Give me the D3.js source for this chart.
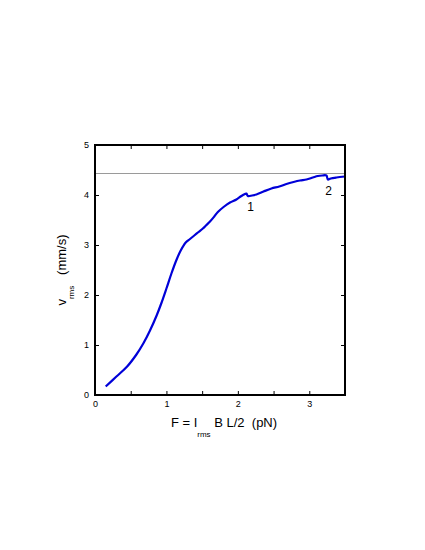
<!DOCTYPE html>
<html>
<head>
<meta charset="utf-8">
<script src="https://cdn.jsdelivr.net/npm/d3@7/dist/d3.min.js"></script>
<style>
  body { margin: 0; background: #fff; }
  text { font-family: "Liberation Sans", Arial, sans-serif; fill: #000; white-space: pre; }
</style>
</head>
<body>
<div id="chart"></div>
<script>
// force (pN) and rms velocity (mm/s)
var force = [0.15, 0.30, 0.45, 0.58, 0.68, 0.77, 0.86, 0.93, 1.00, 1.07, 1.14, 1.20, 1.27,
             1.33, 1.39, 1.45, 1.51, 1.56, 1.61, 1.67, 1.72, 1.80, 1.89, 1.98, 2.05,
             2.10, 2.12, 2.14, 2.20, 2.26, 2.36, 2.47, 2.58, 2.68, 2.78, 2.87, 2.96,
             3.05, 3.12, 3.18, 3.24, 3.26, 3.30, 3.38, 3.50];
var velocity = [0.17, 0.37, 0.57, 0.81, 1.04, 1.29, 1.58, 1.84, 2.13, 2.43, 2.70, 2.89, 3.05,
                3.12, 3.19, 3.26, 3.33, 3.40, 3.47, 3.57, 3.66, 3.76, 3.85, 3.91, 3.98,
                4.02, 4.03, 3.98, 3.99, 4.01, 4.07, 4.13, 4.17, 4.22, 4.26, 4.29, 4.31,
                4.35, 4.38, 4.39, 4.39, 4.31, 4.33, 4.35, 4.37];
// limiting velocity (grey line)
var vLimit = 4.43;
// point labels
var marks = [{name: "1", f: 2.18, v: 3.76}, {name: "2", f: 3.27, v: 4.08}];
var xTicks = [0, 1, 2, 3];
var xMinorTicks = [0, 0.5, 1, 1.5, 2, 2.5, 3];
var yTicks = [0, 1, 2, 3, 4, 5];

var margin = {top: 145, right: 80, bottom: 155, left: 95},
    width = 425 - margin.left - margin.right,
    height = 550 - margin.top - margin.bottom;

var x = d3.scaleLinear().domain([0, 3.5]).range([0, width]);
var y = d3.scaleLinear().domain([0, 5]).range([height, 0]);

var svg = d3.select("#chart").append("svg")
    .attr("width", 425)
    .attr("height", 550)
  .append("g")
    .attr("transform", "translate(" + margin.left + "," + margin.top + ")");

svg.append("clipPath").attr("id", "clip")
  .append("rect").attr("width", width).attr("height", height);

// grey limit line
svg.append("line")
    .attr("x1", 0).attr("x2", width)
    .attr("y1", y(vLimit)).attr("y2", y(vLimit))
    .attr("stroke", "#9a9a9a").attr("stroke-width", 1);

var data = force.map(function(f, i) { return {f: f, v: velocity[i]}; });

var line = d3.line()
    .curve(d3.curveCatmullRom.alpha(0.5))
    .x(function(d) { return x(d.f); })
    .y(function(d) { return y(d.v); });

svg.append("path")
    .datum(data)
    .attr("clip-path", "url(#clip)")
    .attr("fill", "none")
    .attr("stroke", "#0000d8")
    .attr("stroke-width", 2.2)
    .attr("stroke-linejoin", "round")
    .attr("d", line);

svg.selectAll(".mark")
    .data(marks)
    .enter().append("text")
    .attr("class", "mark")
    .attr("x", function(d) { return x(d.f); })
    .attr("y", function(d) { return y(d.v); })
    .attr("dy", "0.35em")
    .attr("text-anchor", "middle")
    .style("font-size", "12px")
    .text(function(d) { return d.name; });

// axes, ticks pointing inward
function styleAxis(g) {
    g.select(".domain").remove();
    g.selectAll(".tick line").attr("stroke", "#000").attr("stroke-width", 1);
    g.selectAll(".tick text").style("font-size", "9px")
        .style("font-family", "'Liberation Sans', Arial, sans-serif");
}

svg.append("g")
    .attr("transform", "translate(0," + height + ")")
    .call(d3.axisBottom(x).tickValues(xMinorTicks).tickSize(-4).tickPadding(6)
        .tickFormat(function(d) { return xTicks.indexOf(d) >= 0 ? d : ""; }))
    .call(styleAxis);

svg.append("g")
    .call(d3.axisTop(x).tickValues(xMinorTicks).tickSize(-4).tickFormat(""))
    .call(styleAxis);

svg.append("g")
    .call(d3.axisLeft(y).tickValues(yTicks).tickSize(-4).tickPadding(6)
        .tickFormat(d3.format("d")))
    .call(styleAxis);

svg.append("g")
    .attr("transform", "translate(" + width + ",0)")
    .call(d3.axisRight(y).tickValues(yTicks).tickSize(-4).tickFormat(""))
    .call(styleAxis);

// frame
svg.append("rect")
    .attr("width", width).attr("height", height)
    .attr("fill", "none").attr("stroke", "#000").attr("stroke-width", 2);

// x axis title
var xt = svg.append("text")
    .attr("x", width / 2 + 4)
    .attr("y", height + 32)
    .attr("text-anchor", "middle")
    .style("font-size", "13px");
xt.append("tspan").text("F = I");
xt.append("tspan").attr("dy", 10).style("font-size", "8px").text("rms");
xt.append("tspan").attr("dy", -10).text(" B L/2  (pN)");

// y axis title
var yt = svg.append("text")
    .attr("transform", "translate(-29," + (height / 2) + ") rotate(-90)")
    .attr("text-anchor", "middle")
    .style("font-size", "13px");
yt.append("tspan").text("v");
yt.append("tspan").attr("dy", 8).style("font-size", "8px").text("rms");
yt.append("tspan").attr("dy", -8).text("   (mm/s)");
</script>
</body>
</html>
